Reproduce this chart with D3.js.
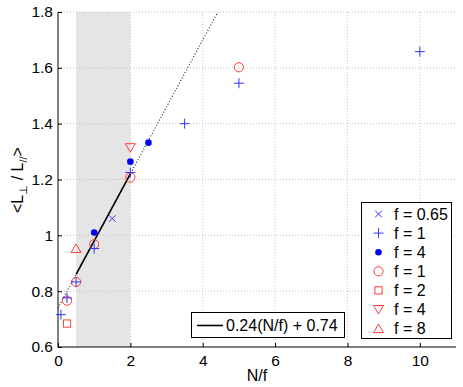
<!DOCTYPE html>
<meta charset="utf-8">
<style>
  body { margin: 0; background: #fff; }
  text { font-family: "Liberation Sans", Arial, sans-serif; fill: #000; }
  .grid line { stroke: #c4c4c4; stroke-dasharray: 1,2; }
</style>
<body>
<script src="https://cdn.jsdelivr.net/npm/d3@7"></script>
<script>
// data
var cross065 = [[1.5, 1.06]];
var plus1 = [[0.08, 0.716], [0.25, 0.776], [0.5, 0.833], [1, 0.953], [2, 1.225], [3.5, 1.40], [5, 1.545], [10, 1.658]];
var dot4 = [[1, 1.01], [2, 1.264], [2.5, 1.332]];
var circ1 = [[0.25, 0.766], [0.5, 0.833], [1, 0.968], [2, 1.207], [5, 1.602]];
var sq2 = [[0.25, 0.684]];
var tridown4 = [[2, 1.314]];
var triup8 = [[0.5, 0.953]];
var fitSlope = 0.24, fitIcpt = 0.74;
var fitRange = [0.5, 2];
var fitExt = [0, 4.4];
var shade = [0.5, 2];
var xTicks = [0, 2, 4, 6, 8, 10];
var yTicks = [0.6, 0.8, 1, 1.2, 1.4, 1.6, 1.8];
var legendLabels = ["f = 0.65", "f = 1", "f = 4", "f = 1", "f = 2", "f = 4", "f = 8"];

var width = 463, height = 387;
var m = {left: 58, right: 456, top: 12, bottom: 347};

var svg = d3.select("body").append("svg")
    .attr("width", width)
    .attr("height", height);

var x = d3.scaleLinear().domain([0, 11]).range([m.left, m.right]);
var y = d3.scaleLinear().domain([0.6, 1.8]).range([m.bottom, m.top]);

// shaded band
svg.append("rect")
    .attr("x", x(shade[0])).attr("y", m.top)
    .attr("width", x(shade[1]) - x(shade[0]))
    .attr("height", m.bottom - m.top)
    .attr("fill", "#e5e5e5");

// grid
var grid = svg.append("g").attr("class", "grid");
grid.selectAll(".gx").data(xTicks.slice(1)).enter().append("line")
    .attr("x1", d => x(d)).attr("x2", d => x(d))
    .attr("y1", m.top).attr("y2", m.bottom);
grid.selectAll(".gy").data(yTicks.slice(1)).enter().append("line")
    .attr("x1", m.left).attr("x2", m.right)
    .attr("y1", d => y(d)).attr("y2", d => y(d));

// fit lines
var fit = function(v) { return fitSlope * v + fitIcpt; };
svg.append("line")
    .attr("x1", x(fitExt[0])).attr("y1", y(fit(fitExt[0])))
    .attr("x2", x(fitExt[1])).attr("y2", y(fit(fitExt[1])))
    .attr("stroke", "#222").attr("stroke-width", 1.1)
    .attr("stroke-dasharray", "1,2");
svg.append("line")
    .attr("x1", x(fitRange[0])).attr("y1", y(fit(fitRange[0])))
    .attr("x2", x(fitRange[1])).attr("y2", y(fit(fitRange[1])))
    .attr("stroke", "#000").attr("stroke-width", 1.6);

// axes (MATLAB style ticks pointing inward)
var xAxis = d3.axisBottom(x).tickValues(xTicks).tickSize(-4).tickPadding(8).tickFormat(d3.format("d"));
var yAxis = d3.axisLeft(y).tickValues(yTicks).tickSize(-4).tickPadding(5).tickFormat(d => String(+d.toFixed(1)));

var gx = svg.append("g").attr("transform", "translate(0," + m.bottom + ")").call(xAxis);
var gy = svg.append("g").attr("transform", "translate(" + m.left + ",0)").call(yAxis);
[gx, gy].forEach(function(g) {
  g.select(".domain").attr("stroke", "#000");
  g.selectAll(".tick line").attr("stroke", "#000");
  g.selectAll("text").attr("font-size", 15.5).attr("font-family", "Liberation Sans, Arial, sans-serif");
});
gy.select(".domain").attr("d", "M0," + m.top + "V" + m.bottom);
gx.select(".domain").attr("d", "M" + m.left + ",0H" + m.right);

// markers
var blue = "#3333ff", red = "#ff3b3b";
function marker(g, type, color) {
  if (type === "x") g.append("path").attr("d", "M-3.3,-3.3L3.3,3.3M-3.3,3.3L3.3,-3.3").attr("stroke", color).attr("fill", "none");
  if (type === "+") g.append("path").attr("d", "M-5,0H5M0,-5V5").attr("stroke", color).attr("fill", "none");
  if (type === "dot") g.append("circle").attr("r", 3.3).attr("fill", "#0000ff");
  if (type === "o") g.append("circle").attr("r", 4.6).attr("stroke", color).attr("fill", "none");
  if (type === "s") g.append("rect").attr("x", -3.6).attr("y", -3.6).attr("width", 7.2).attr("height", 7.2).attr("stroke", color).attr("fill", "none");
  if (type === "v") g.append("path").attr("d", "M-5,-4L5,-4L0,4.5Z").attr("stroke", color).attr("fill", "none");
  if (type === "^") g.append("path").attr("d", "M-5,4L5,4L0,-4.5Z").attr("stroke", color).attr("fill", "none");
}

var series = [
  {data: cross065, type: "x", color: blue},
  {data: plus1, type: "+", color: blue},
  {data: dot4, type: "dot", color: blue},
  {data: circ1, type: "o", color: red},
  {data: sq2, type: "s", color: red},
  {data: tridown4, type: "v", color: red},
  {data: triup8, type: "^", color: red}
];

// red drawn first, blue on top (as in the figure)
[3, 4, 5, 6, 0, 1, 2].forEach(function(i) {
  var s = series[i];
  svg.append("g").selectAll("g").data(s.data).enter().append("g")
      .attr("transform", d => "translate(" + x(d[0]) + "," + y(d[1]) + ")")
      .each(function() { marker(d3.select(this), s.type, s.color); });
});

// marker legend
var lg = svg.append("g");
lg.append("rect").attr("x", 361.5).attr("y", 202.5).attr("width", 90).attr("height", 136)
    .attr("fill", "#fff").attr("stroke", "#000");
series.forEach(function(s, i) {
  var yy = 214 + i * 19.1;
  var g = lg.append("g").attr("transform", "translate(378.5," + yy + ")");
  marker(g, s.type, s.color);
  lg.append("text").attr("x", 394).attr("y", yy).attr("dy", "0.36em")
      .attr("font-size", 16).text(legendLabels[i]);
});

// fit legend
var fg = svg.append("g");
fg.append("rect").attr("x", 191.5).attr("y", 312.5).attr("width", 153).attr("height", 25)
    .attr("fill", "#fff").attr("stroke", "#000");
fg.append("line").attr("x1", 197).attr("x2", 223).attr("y1", 325.5).attr("y2", 325.5)
    .attr("stroke", "#000").attr("stroke-width", 1.6);
fg.append("text").attr("x", 226).attr("y", 325.5).attr("dy", "0.36em").attr("font-size", 16)
    .text(fitSlope + "(N/f) + " + fitIcpt);

// axis labels
svg.append("text").attr("x", 257).attr("y", 381).attr("text-anchor", "middle")
    .attr("font-size", 16).text("N/f");

var yl = svg.append("text").attr("transform", "translate(23,180) rotate(-90)")
    .attr("text-anchor", "middle").attr("font-size", 16);
yl.append("tspan").text("<L");
yl.append("tspan").attr("font-size", 11).attr("dy", 4).text("\u22a5");
yl.append("tspan").attr("dy", -4).text(" / L");
yl.append("tspan").attr("font-size", 11).attr("dy", 4).text("//");
yl.append("tspan").attr("dy", -4).text(">");
</script>
